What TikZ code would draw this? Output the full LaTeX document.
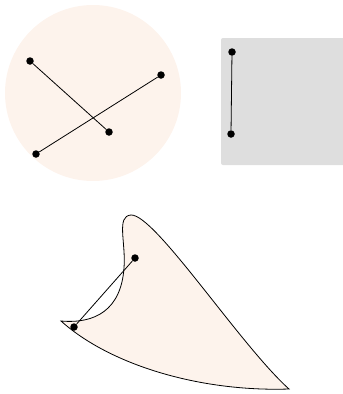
\documentclass[tikz,border=0pt]{standalone}
\definecolor{peach}{RGB}{253,243,236}
\definecolor{lgray}{RGB}{222,222,222}
\begin{document}
\begin{tikzpicture}[x=1pt,y=-1pt,
  dot/.style={circle,fill=black,inner sep=0pt,minimum size=7.5pt},
  link/.style={draw=black,line width=0.8pt}]
\useasboundingbox (0,0) rectangle (343,394);
% circle
\fill[peach] (93,93) circle (88);
% gray rect
\fill[lgray,rounded corners=2pt] (221,38) rectangle (347,165);
% shape
\draw[fill=peach,line width=0.8pt] (61,321) .. controls (95,324) and (121,310) .. (124,268)
  .. controls (126,242) and (116,216) .. (131,215)
  .. controls (155,214) and (240,345) .. (289,389)
  .. controls (200,392) and (110,365) .. (61,321) -- cycle;
% dots
\node[dot] (a) at (30,61) {};
\node[dot] (b) at (109,132) {};
\node[dot] (c) at (161,75) {};
\node[dot] (d) at (36,154) {};
\node[dot] (e) at (232,52) {};
\node[dot] (f) at (231,134) {};
\node[dot] (g) at (135,258) {};
\node[dot] (h) at (74,327) {};
\draw[link] (a) -- (b);
\draw[link] (c) -- (d);
\draw[link] (e) -- (f);
\draw[link] (g) -- (h);
\end{tikzpicture}
\end{document}
